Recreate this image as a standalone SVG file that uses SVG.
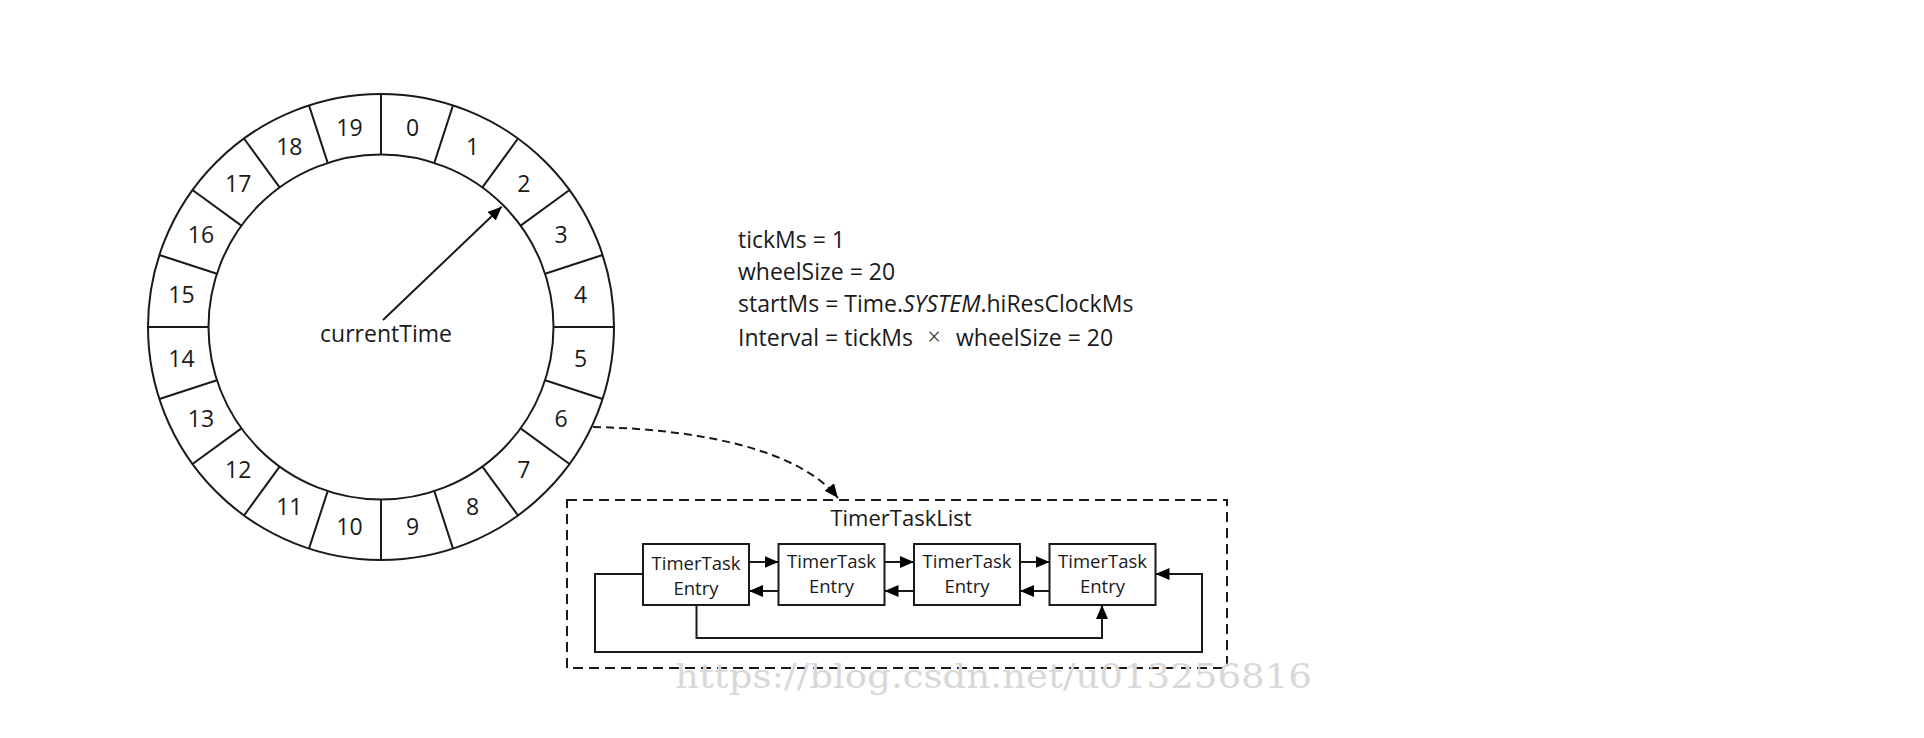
<svg xmlns="http://www.w3.org/2000/svg" width="1924" height="738" viewBox="0 0 1924 738">
<style>
.ln{fill:none;stroke:#1a1a1a;stroke-width:2}
.num{font-family:"Open Sans","Noto Sans",sans-serif;font-size:23px;fill:#1a1a1a;text-anchor:middle}
.lbl{font-family:"Open Sans","Noto Sans",sans-serif;font-size:22px;fill:#1a1a1a}
.par{font-family:"Open Sans","Noto Sans",sans-serif;font-size:23px;fill:#1a1a1a}
.ent{font-family:"Open Sans","Noto Sans",sans-serif;font-size:18.5px;fill:#1a1a1a;text-anchor:middle}
.box{fill:#fff;stroke:#1a1a1a;stroke-width:2}
</style>
<defs>
<marker id="ah" markerUnits="userSpaceOnUse" markerWidth="16" markerHeight="14" refX="14" refY="6" orient="auto">
<path d="M0,0 L14,6 L0,12 z" fill="#000"/>
</marker>
</defs>
<rect width="1924" height="738" fill="#fff"/>
<g id="wheel">
<circle class="ln" cx="381" cy="327" r="233"/>
<circle class="ln" cx="381" cy="327" r="172.5"/>
<path class="ln" d="M381,154.5L381,94 M434.3,162.9L453,105.4 M482.4,187.4L518,138.5 M520.6,225.6L569.5,190 M545.1,273.7L602.6,255 M553.5,327L614,327 M545.1,380.3L602.6,399 M520.6,428.4L569.5,464 M482.4,466.6L518,515.5 M434.3,491.1L453,548.6 M381,499.5L381,560 M327.7,491.1L309,548.6 M279.6,466.6L244,515.5 M241.4,428.4L192.5,464 M216.9,380.3L159.4,399 M208.5,327L148,327 M216.9,273.7L159.4,255 M241.4,225.6L192.5,190 M279.6,187.4L244,138.5 M327.7,162.9L309,105.4"/>
<text class="num" x="412.6" y="135.5">0</text>
<text class="num" x="472.7" y="155">1</text>
<text class="num" x="523.8" y="192.2">2</text>
<text class="num" x="561" y="243.3">3</text>
<text class="num" x="580.5" y="303.4">4</text>
<text class="num" x="580.5" y="366.6">5</text>
<text class="num" x="561" y="426.7">6</text>
<text class="num" x="523.8" y="477.8">7</text>
<text class="num" x="472.7" y="515">8</text>
<text class="num" x="412.6" y="534.5">9</text>
<text class="num" x="349.4" y="534.5">10</text>
<text class="num" x="289.3" y="515">11</text>
<text class="num" x="238.2" y="477.8">12</text>
<text class="num" x="201" y="426.7">13</text>
<text class="num" x="181.5" y="366.6">14</text>
<text class="num" x="181.5" y="303.4">15</text>
<text class="num" x="201" y="243.3">16</text>
<text class="num" x="238.2" y="192.2">17</text>
<text class="num" x="289.3" y="155">18</text>
<text class="num" x="349.4" y="135.5">19</text>
</g>
<g id="currentTime">
<text class="num" x="386" y="342">currentTime</text>
</g>
<g id="params">
<text class="par" x="738" y="248">tickMs = 1</text>
<text class="par" x="738" y="280">wheelSize = 20</text>
<text class="par" x="738" y="312">startMs = Time.<tspan font-style="italic">SYSTEM</tspan>.hiResClockMs</text>
<text class="par" x="738" y="346">Interval = tickMs</text>
<text class="par" x="934" y="345" text-anchor="middle" font-size="34" font-weight="300">×</text>
<text class="par" x="956" y="346">wheelSize = 20</text>
</g>
<g id="timerTaskList">
<rect x="567" y="500" width="660" height="168" fill="none" stroke="#1a1a1a" stroke-width="2" stroke-dasharray="10 6"/>
<text class="lbl" x="901" y="526" text-anchor="middle">TimerTaskList</text>
</g>
<g id="entry1">
<rect class="box" x="643" y="544" width="106" height="61"/>
<text class="ent" x="696" y="570">TimerTask</text>
<text class="ent" x="696" y="595">Entry</text>
</g>
<g id="entry2">
<rect class="box" x="778.5" y="544" width="106" height="61"/>
<text class="ent" x="831.5" y="568">TimerTask</text>
<text class="ent" x="831.5" y="593">Entry</text>
</g>
<g id="entry3">
<rect class="box" x="914" y="544" width="106" height="61"/>
<text class="ent" x="967" y="568">TimerTask</text>
<text class="ent" x="967" y="593">Entry</text>
</g>
<g id="entry4">
<rect class="box" x="1049.5" y="544" width="106" height="61"/>
<text class="ent" x="1102.5" y="568">TimerTask</text>
<text class="ent" x="1102.5" y="593">Entry</text>
</g>
<g id="connectors">
<path class="ln" d="M383,320 L501.7,206.7" marker-end="url(#ah)"/>
<path class="ln" d="M593,427 C700,429 800,450 838,498" stroke-dasharray="8 5" marker-end="url(#ah)"/>
<path class="ln" d="M749,562 H778.5" marker-end="url(#ah)"/>
<path class="ln" d="M884.5,562 H914" marker-end="url(#ah)"/>
<path class="ln" d="M1020,562 H1049.5" marker-end="url(#ah)"/>
<path class="ln" d="M778.5,591 H749" marker-end="url(#ah)"/>
<path class="ln" d="M914,591 H884.5" marker-end="url(#ah)"/>
<path class="ln" d="M1049.5,591 H1020" marker-end="url(#ah)"/>
<path class="ln" d="M696.5,605 V638 H1102 V605" marker-end="url(#ah)"/>
<path class="ln" d="M643,574 H595 V652 H1202 V574 H1155.5" marker-end="url(#ah)"/>
</g>
<text x="675" y="688" font-family="DejaVu Serif,serif" font-size="33" fill="#d8d8d8" textLength="637" lengthAdjust="spacingAndGlyphs">https://blog.csdn.net/u013256816</text>
</svg>
